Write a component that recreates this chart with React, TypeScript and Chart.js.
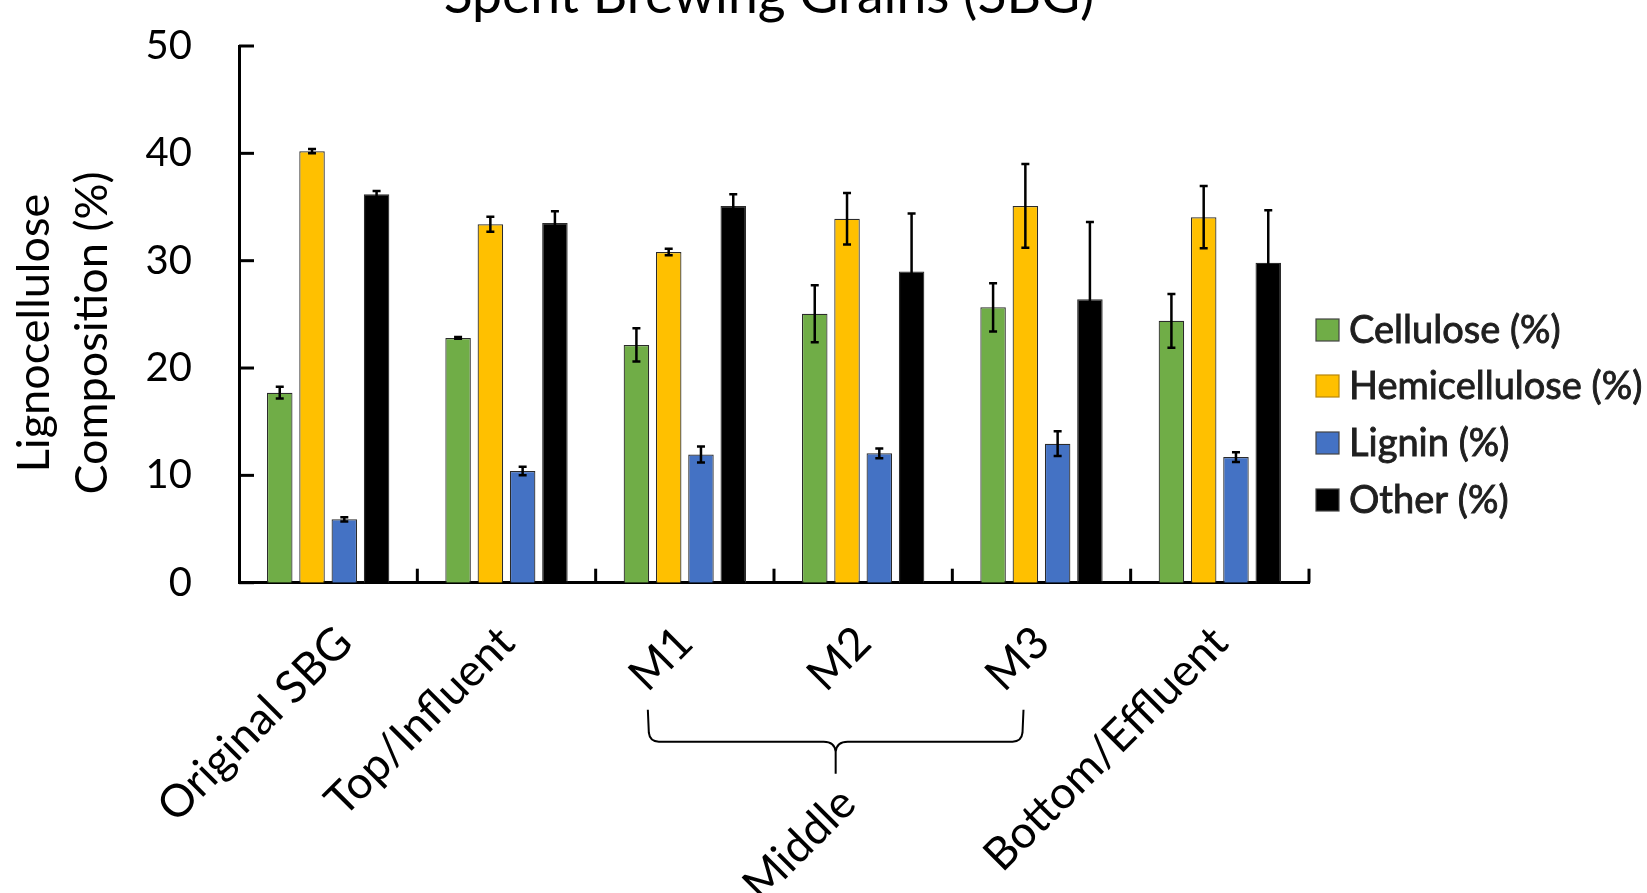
import React, { useEffect, useRef } from "react";
import { Chart, registerables } from "chart.js";

Chart.register(...registerables);

// ---------- data ----------
const categories = ["Original SBG", "Top/Influent", "M1", "M2", "M3", "Bottom/Effluent"];
const seriesLabels = ["Cellulose (%)", "Hemicellulose (%)", "Lignin (%)", "Other (%)"];
const cellulose = [17.7, 22.8, 22.15, 25.05, 25.65, 24.4];
const celluloseErr = [0.55, 0.08, 1.55, 2.65, 2.25, 2.5];
const hemicellulose = [40.2, 33.4, 30.8, 33.9, 35.1, 34.05];
const hemicelluloseErr = [0.2, 0.7, 0.3, 2.4, 3.9, 2.9];
const lignin = [5.9, 10.4, 11.95, 12.05, 12.95, 11.7];
const ligninErr = [0.2, 0.4, 0.75, 0.45, 1.15, 0.45];
const other = [36.2, 33.5, 35.1, 29.0, 26.4, 29.8];
const otherErr = [0.3, 1.1, 1.1, 5.4, 7.2, 4.9];
const yTicks = [0, 10, 20, 30, 40, 50];
const chartTitle = "Spent Brewing Grains (SBG)";
const yTitle = ["Lignocellulose", "Composition (%)"];
const groupLabel = "Middle";
const groupFirst = 2; // M1
const groupLast = 4; // M3

const seriesValues = [cellulose, hemicellulose, lignin, other];
const seriesErrors = [celluloseErr, hemicelluloseErr, ligninErr, otherErr];
const seriesColors = ["#70AD47", "#FFC000", "#4472C4", "#000000"];

// layout tweaks (not data)
const FONT = "Lato, 'Open Sans', sans-serif";
const labelNudgeX = [16, 0, 0, 0, 0, 0];

const decorPlugin = {
  id: "decor",
  afterDatasetsDraw(chart: any) {
    const ctx = chart.ctx;
    const y = chart.scales.y;
    ctx.save();
    ctx.strokeStyle = "#000";
    ctx.lineWidth = 2.5;
    ctx.lineCap = "butt";
    chart.data.datasets.forEach((ds: any, di: number) => {
      const meta = chart.getDatasetMeta(di);
      const errs = seriesErrors[di];
      meta.data.forEach((el: any, i: number) => {
        const v = ds.data[i];
        const e = errs[i];
        const yt = y.getPixelForValue(v + e);
        const yb = y.getPixelForValue(v - e);
        const x = el.x;
        const cap = 4;
        ctx.beginPath();
        ctx.moveTo(x, yt);
        ctx.lineTo(x, yb);
        ctx.moveTo(x - cap, yt);
        ctx.lineTo(x + cap, yt);
        ctx.moveTo(x - cap, yb);
        ctx.lineTo(x + cap, yb);
        ctx.stroke();
      });
    });
    ctx.restore();
  },
  afterDraw(chart: any) {
    const ctx = chart.ctx;
    const xs = chart.scales.x;
    const ys = chart.scales.y;
    const area = chart.chartArea;
    ctx.save();
    ctx.strokeStyle = "#000";
    ctx.fillStyle = "#000";
    ctx.lineWidth = 3;
    // inward y ticks
    yTicks.forEach((v) => {
      const py = ys.getPixelForValue(v);
      ctx.beginPath();
      ctx.moveTo(area.left, py);
      ctx.lineTo(area.left + 15, py);
      ctx.stroke();
    });
    // inward x ticks at category boundaries
    const n = categories.length;
    const step = (area.right - area.left) / n;
    for (let i = 1; i <= n; i++) {
      const px = area.left + i * step;
      ctx.beginPath();
      ctx.moveTo(px, area.bottom);
      ctx.lineTo(px, area.bottom - 14);
      ctx.stroke();
    }
    // x labels rotated 45
    ctx.font = `45px ${FONT}`;
    ctx.textAlign = "right";
    ctx.textBaseline = "alphabetic";
    categories.forEach((lab, i) => {
      const px = xs.getPixelForValue(i) + labelNudgeX[i];
      ctx.save();
      ctx.translate(px, area.bottom + 52);
      ctx.rotate(-Math.PI / 4);
      ctx.fillText(lab, 0, 15);
      ctx.restore();
    });
    // brace
    const L = xs.getPixelForValue(groupFirst) - 37;
    const R = xs.getPixelForValue(groupLast) - 18;
    const C = (L + R) / 2;
    const top = area.bottom + 127;
    const mid = area.bottom + 159;
    const bot = area.bottom + 191;
    ctx.lineWidth = 2;
    ctx.beginPath();
    ctx.moveTo(L, top);
    ctx.lineTo(L + 1, mid - 9);
    ctx.quadraticCurveTo(L + 2, mid, L + 11, mid);
    ctx.lineTo(C - 12, mid);
    ctx.quadraticCurveTo(C - 1, mid, C, mid + 10);
    ctx.lineTo(C, bot);
    ctx.moveTo(C, mid + 10);
    ctx.quadraticCurveTo(C + 1, mid, C + 12, mid);
    ctx.lineTo(R - 11, mid);
    ctx.quadraticCurveTo(R - 2, mid, R - 1, mid - 9);
    ctx.lineTo(R, top);
    ctx.stroke();
    // group label
    ctx.save();
    ctx.translate(C + 12, bot + 22);
    ctx.rotate(-Math.PI / 4);
    ctx.fillText(groupLabel, 0, 15);
    ctx.restore();
    // title
    ctx.font = `53.5px ${FONT}`;
    ctx.textAlign = "center";
    ctx.fillText(chartTitle, (area.left + area.right) / 2 - 5, 13);
    // y title
    ctx.font = `45px ${FONT}`;
    ctx.save();
    ctx.translate(0, 333);
    ctx.rotate(-Math.PI / 2);
    ctx.fillText(yTitle[0], 0, 49);
    ctx.fillText(yTitle[1], 0, 107);
    ctx.restore();
    // legend
    ctx.font = `38px ${FONT}`;
    ctx.textAlign = "left";
    ctx.textBaseline = "middle";
    const lx = area.right + 7;
    const rows = [330, 386, 443, 500];
    seriesLabels.forEach((lab, i) => {
      const cy = rows[i];
      ctx.fillStyle = seriesColors[i];
      ctx.fillRect(lx, cy - 11, 23, 22);
      ctx.lineWidth = 1.2;
      ctx.strokeStyle = i === 1 ? "#B8860B" : "#444";
      ctx.strokeRect(lx, cy - 11, 23, 22);
      ctx.fillStyle = "#1f1f1f";
      ctx.strokeStyle = "#1f1f1f";
      ctx.lineWidth = 0.9;
      ctx.fillText(lab, lx + 33, cy + 1);
      ctx.strokeText(lab, lx + 33, cy + 1);
    });
    ctx.restore();
  },
};

export default function App() {
  const ref = useRef<HTMLCanvasElement | null>(null);
  useEffect(() => {
    document.body.style.margin = "0";
    if (!ref.current) return;
    const chart = new Chart(ref.current, {
      type: "bar",
      data: {
        labels: categories,
        datasets: seriesLabels.map((lab, i) => ({
          label: lab,
          data: seriesValues[i],
          backgroundColor: seriesColors[i],
          borderColor: "#2b2b2b",
          borderWidth: 1.2,
          categoryPercentage: 0.724,
          barPercentage: 0.79,
        })),
      },
      options: {
        responsive: false,
        animation: false,
        layout: { padding: { left: 0, right: 338, top: 46, bottom: 0 } },
        plugins: {
          legend: { display: false },
          tooltip: { enabled: false },
          title: { display: false },
        },
        scales: {
          x: {
            ticks: { display: false },
            grid: { display: false, drawTicks: false },
            border: { display: true, color: "#000", width: 3 },
            afterFit: (s: any) => {
              s.height = 310.3;
            },
          },
          y: {
            min: 0,
            max: 50,
            ticks: {
              stepSize: 10,
              padding: 0,
              color: "#000",
              font: { family: FONT, size: 40 },
            },
            grid: { display: false, drawTicks: true, tickLength: 47 },
            border: { display: true, color: "#000", width: 3 },
            afterFit: (s: any) => {
              s.width = 239;
            },
          },
        },
      },
      plugins: [decorPlugin],
    });
    return () => chart.destroy();
  }, []);
  return <canvas ref={ref} width={1647} height={893} style={{ display: "block" }} />;
}
